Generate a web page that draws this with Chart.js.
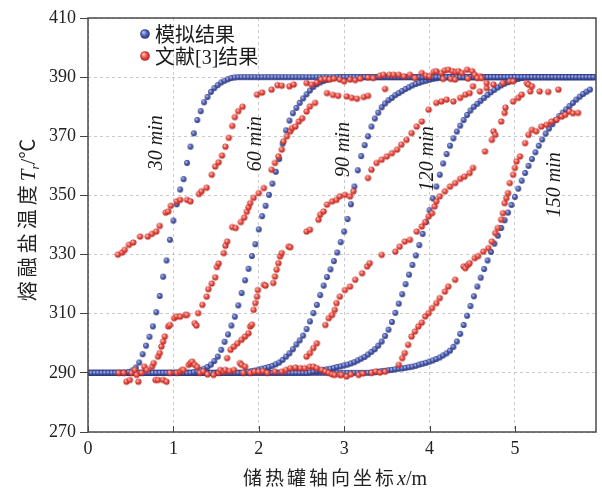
<!DOCTYPE html>
<html>
<head>
<meta charset="utf-8">
<script src="https://cdn.jsdelivr.net/npm/chart.js@4"></script>
<style>
  html, body { margin: 0; padding: 0; background: #fff; }
  canvas { display: block; }
</style>
</head>
<body>
<canvas id="chart" width="602" height="491"></canvas>
<script>
// Axial grid of the simulation (m)
const nodeX = [
  0, 0.04, 0.08, 0.12, 0.16, 0.2, 0.24, 0.28, 0.32, 0.36,
  0.4, 0.44, 0.48, 0.52, 0.56, 0.6, 0.64, 0.68, 0.72, 0.76,
  0.8, 0.84, 0.88, 0.92, 0.96, 1, 1.04, 1.08, 1.12, 1.16,
  1.2, 1.24, 1.28, 1.32, 1.36, 1.4, 1.44, 1.48, 1.52, 1.56,
  1.6, 1.64, 1.68, 1.72, 1.76, 1.8, 1.84, 1.88, 1.92, 1.96,
  2, 2.04, 2.08, 2.12, 2.16, 2.2, 2.24, 2.28, 2.32, 2.36,
  2.4, 2.44, 2.48, 2.52, 2.56, 2.6, 2.64, 2.68, 2.72, 2.76,
  2.8, 2.84, 2.88, 2.92, 2.96, 3, 3.04, 3.08, 3.12, 3.16,
  3.2, 3.24, 3.28, 3.32, 3.36, 3.4, 3.44, 3.48, 3.52, 3.56,
  3.6, 3.64, 3.68, 3.72, 3.76, 3.8, 3.84, 3.88, 3.92, 3.96,
  4, 4.04, 4.08, 4.12, 4.16, 4.2, 4.24, 4.28, 4.32, 4.36,
  4.4, 4.44, 4.48, 4.52, 4.56, 4.6, 4.64, 4.68, 4.72, 4.76,
  4.8, 4.84, 4.88, 4.92, 4.96, 5, 5.04, 5.08, 5.12, 5.16,
  5.2, 5.24, 5.28, 5.32, 5.36, 5.4, 5.44, 5.48, 5.52, 5.56,
  5.6, 5.64, 5.68, 5.72, 5.76, 5.8, 5.84, 5.88, 5.92
];

// Simulated salt temperature (°C) on nodeX, one array per time
const temp30 = [
  290, 290, 290, 290, 290, 290, 290, 290, 290, 290,
  290, 290, 290.3, 290.8, 291.8, 293.5, 296.3, 299.2, 302.2, 305.7,
  310.5, 316, 322.5, 328, 335, 341.5, 347, 352, 355.5, 361,
  366.5, 371, 375.5, 378.5, 381.5, 383.3, 385, 386.3, 387.3, 388.2,
  388.8, 389.3, 389.7, 389.9, 390, 390, 390, 390, 390, 390,
  390, 390, 390, 390, 390, 390, 390, 390, 390, 390,
  390, 390, 390, 390, 390, 390, 390, 390, 390, 390,
  390, 390, 390, 390, 390, 390, 390, 390, 390, 390,
  390, 390, 390, 390, 390, 390, 390, 390, 390, 390,
  390, 390, 390, 390, 390, 390, 390, 390, 390, 390,
  390, 390, 390, 390, 390, 390, 390, 390, 390, 390,
  390, 390, 390, 390, 390, 390, 390, 390, 390, 390,
  390, 390, 390, 390, 390, 390, 390, 390, 390, 390,
  390, 390, 390, 390, 390, 390, 390, 390, 390, 390,
  390, 390, 390, 390, 390, 390, 390, 390, 390
];
const temp60 = [
  290, 290, 290, 290, 290, 290, 290, 290, 290, 290,
  290, 290, 290, 290, 290, 290, 290, 290, 290, 290,
  290, 290, 290, 290, 290, 290, 290, 290, 290, 290,
  290, 290.2, 290.5, 290.9, 291.4, 292, 292.8, 294, 295.5, 297.8,
  300.5, 303, 306, 309, 312.8, 317, 321.3, 325.2, 329.5, 333.5,
  338.5, 343, 346.5, 350.2, 354, 358, 362.3, 367.5, 372, 375.3,
  377.8, 379.6, 381.3, 382.8, 384.2, 385.5, 386.7, 387.6, 388.2, 388.7,
  389.1, 389.4, 389.7, 389.9, 390, 390, 390, 390, 390, 390,
  390, 390, 390, 390, 390, 390, 390, 390, 390, 390,
  390, 390, 390, 390, 390, 390, 390, 390, 390, 390,
  390, 390, 390, 390, 390, 390, 390, 390, 390, 390,
  390, 390, 390, 390, 390, 390, 390, 390, 390, 390,
  390, 390, 390, 390, 390, 390, 390, 390, 390, 390,
  390, 390, 390, 390, 390, 390, 390, 390, 390, 390,
  390, 390, 390, 390, 390, 390, 390, 390, 390
];
const temp90 = [
  290, 290, 290, 290, 290, 290, 290, 290, 290, 290,
  290, 290, 290, 290, 290, 290, 290, 290, 290, 290,
  290, 290, 290, 290, 290, 290, 290, 290, 290, 290,
  290, 290, 290, 290, 290, 290, 290, 290, 290, 290,
  290, 290, 290, 290, 290, 290, 290.2, 290.4, 290.6, 290.8,
  291.1, 291.4, 291.7, 292, 292.4, 292.9, 293.5, 294.4, 295.5, 296.6,
  298, 299.6, 301, 302.6, 304.8, 307.4, 310.2, 313, 316.3, 319.5,
  322.4, 325, 327.8, 330.7, 334.2, 337.8, 342, 347, 353, 358.5,
  363.3, 367, 370, 373.3, 376, 378, 379.8, 381.1, 382.2, 383,
  383.9, 384.6, 385.3, 386, 386.6, 387.2, 387.7, 388.1, 388.5, 388.8,
  389.1, 389.4, 389.6, 389.8, 389.9, 390, 390, 390, 390, 390,
  390, 390, 390, 390, 390, 390, 390, 390, 390, 390,
  390, 390, 390, 390, 390, 390, 390, 390, 390, 390,
  390, 390, 390, 390, 390, 390, 390, 390, 390, 390,
  390, 390, 390, 390, 390, 390, 390, 390, 390
];
const temp120 = [
  290, 290, 290, 290, 290, 290, 290, 290, 290, 290,
  290, 290, 290, 290, 290, 290, 290, 290, 290, 290,
  290, 290, 290, 290, 290, 290, 290, 290, 290, 290,
  290, 290, 290, 290, 290, 290, 290, 290, 290, 290,
  290, 290, 290, 290, 290, 290, 290, 290, 290, 290,
  290, 290, 290, 290, 290, 290, 290, 290, 290, 290,
  290, 290, 290, 290, 290, 290.2, 290.4, 290.6, 290.8, 291,
  291.2, 291.4, 291.7, 292, 292.2, 292.5, 292.8, 293.2, 293.6, 294.2,
  294.8, 295.4, 296.2, 297.1, 298, 299.2, 300.6, 302.5, 304.6, 307.2,
  310.3, 313.4, 316.6, 320, 323.2, 326.5, 329.7, 333.2, 337, 341,
  345, 349, 353, 357, 360.8, 364, 366.8, 369.3, 371.6, 373.6,
  375.5, 377.2, 378.7, 380, 381, 382, 383, 384, 384.9, 385.7,
  386.5, 387.2, 387.8, 388.3, 388.7, 389.1, 389.4, 389.7, 389.9, 390,
  390, 390, 390, 390, 390, 390, 390, 390, 390, 390,
  390, 390, 390, 390, 390, 390, 390, 390, 390
];
const temp150 = [
  290, 290, 290, 290, 290, 290, 290, 290, 290, 290,
  290, 290, 290, 290, 290, 290, 290, 290, 290, 290,
  290, 290, 290, 290, 290, 290, 290, 290, 290, 290,
  290, 290, 290, 290, 290, 290, 290, 290, 290, 290,
  290, 290, 290, 290, 290, 290, 290, 290, 290, 290,
  290, 290, 290, 290, 290, 290, 290, 290, 290, 290,
  290, 290, 290, 290, 290, 290, 290, 290, 290, 290,
  290, 290, 290, 290, 290, 290, 290, 290, 290, 290,
  290, 290, 290, 290.1, 290.2, 290.4, 290.6, 290.7, 290.9, 291,
  291.2, 291.4, 291.5, 291.7, 291.9, 292.1, 292.4, 292.8, 293.1, 293.4,
  293.8, 294.2, 294.7, 295.2, 295.9, 296.6, 297.5, 298.8, 300.6, 303.2,
  306.2, 309.3, 312.6, 315.9, 319.2, 322.2, 325.1, 328, 330.9, 333.7,
  336.4, 339, 341.6, 344.2, 346.8, 349.5, 352.3, 355, 357.6, 360,
  362.3, 364.6, 366.8, 368.9, 370.9, 372.6, 374.1, 375.5, 376.8, 378,
  379.1, 380.2, 381.3, 382.4, 383.4, 384.3, 385.1, 385.8
];
const simTemps = [temp30, temp60, temp90, temp120, temp150];

// Reference [3] measurements: position (m) and temperature (°C)
const redX = [
  0.36, 0.42, 0.45, 0.49, 0.51, 0.55, 0.57, 0.59, 0.63, 0.66, 0.69, 0.75, 0.77, 0.79, 0.82, 0.88, 0.92, 0.96,
  0.35, 0.40, 0.43, 0.48, 0.53, 0.61, 0.70, 0.75, 0.80, 0.84, 0.91, 0.94, 0.97, 1.04, 1.08, 1.16, 1.20, 1.30,
  1.33, 1.39, 1.45, 1.49, 1.53, 1.57, 1.61, 1.65, 1.69, 1.72, 1.76, 1.81, 1.98, 2.04, 2.15, 2.22, 2.27, 2.36,
  2.41, 2.56, 2.62, 2.68, 2.73, 2.78, 2.83,
  0.82, 0.84, 0.86, 0.88, 0.90, 0.94, 0.96, 1.01, 1.04, 1.08, 1.14, 1.16, 1.25, 1.27, 1.29, 1.34, 1.39, 1.41,
  1.45, 1.49, 1.51, 1.53, 1.59, 1.61, 1.63, 1.69, 1.73, 1.79, 1.83, 1.86, 1.88, 1.90, 1.94, 2.00, 2.06, 2.15,
  2.19, 2.23, 2.27, 2.29, 2.33, 2.37, 2.39, 2.43, 2.47, 2.51, 2.56, 2.60, 2.66, 2.80, 2.87, 2.93, 3.03, 3.09,
  3.15, 3.23, 3.28, 3.48,
  1.63, 1.67, 1.71, 1.75, 1.80, 1.84, 1.88, 1.90, 1.92, 1.94, 1.96, 1.98, 1.99, 2.06, 2.08, 2.17, 2.19, 2.21,
  2.23, 2.25, 2.27, 2.35, 2.37, 2.56, 2.60, 2.70, 2.72, 2.76, 2.80, 2.86, 2.91, 2.95, 3.01, 3.07, 3.11, 3.28,
  3.32, 3.38, 3.44, 3.50, 3.56, 3.62, 3.67, 3.73, 3.79, 3.85, 3.91, 3.99, 4.08, 4.14, 4.20, 4.28, 4.36, 4.42,
  4.47, 4.59, 4.67, 4.75, 4.86, 4.94, 4.98,
  2.56, 2.60, 2.64, 2.68, 2.78, 2.82, 2.86, 2.89, 2.91, 2.95, 3.01, 3.07, 3.13, 3.21, 3.27, 3.30, 3.44, 3.60,
  3.65, 3.71, 3.77, 3.85, 3.91, 3.95, 3.99, 4.03, 4.06, 4.08, 4.12, 4.18, 4.24, 4.30, 4.36, 4.41, 4.47, 4.51,
  4.65, 4.73, 4.75, 4.77, 4.84, 4.88, 4.89, 4.98, 5.04, 5.08, 5.18,
  3.64, 3.68, 3.71, 3.75, 3.79, 3.83, 3.87, 3.91, 3.95, 3.99, 4.03, 4.08, 4.12, 4.18, 4.22, 4.30, 4.40, 4.42,
  4.45, 4.47, 4.53, 4.57, 4.63, 4.69, 4.73, 4.77, 4.80, 4.84, 4.86, 4.88, 4.90, 4.92, 4.94, 4.98, 5.00, 5.02,
  5.06, 5.12, 5.16, 5.20, 5.25, 5.31, 5.37, 5.43, 5.49, 5.55, 5.59, 5.64, 5.68, 5.74,
  1.04, 1.08, 1.10, 1.12, 1.18, 1.20, 1.22, 1.25, 1.28, 1.31, 1.35, 1.40, 1.47, 1.53, 1.55, 1.59, 1.61, 1.66,
  1.71, 1.78, 1.80, 1.82, 1.84, 1.90, 1.95, 2.00, 2.05, 2.10, 2.19, 2.27, 2.32, 2.37, 2.43, 2.49, 2.54, 2.60,
  2.64, 2.68, 2.74, 2.78, 2.82, 2.86, 2.89, 2.95, 2.97, 3.03, 3.08, 3.17, 3.22, 3.32, 3.37, 3.42, 3.48,
  2.88, 2.95, 3.00, 3.07, 3.13, 3.19, 3.28, 3.34, 3.42, 3.46, 3.53, 3.58, 3.64, 3.70, 3.77, 3.83, 3.91, 3.96,
  4.00, 4.05, 4.08, 4.14, 4.18, 4.22, 4.27, 4.31, 4.34, 4.38, 4.44, 4.50, 4.53, 4.59, 4.16, 4.25, 4.30, 4.45,
  4.56, 4.61, 4.67, 4.51, 5.14, 5.16, 5.20, 5.29, 5.39, 5.51
];
const redT = [
  290, 290, 287, 287.6, 290, 291, 289.3, 287, 290, 292.1, 291, 292.1, 293.3, 287.6, 287.6, 287.6, 287, 290,
  330, 330.7, 331.6, 333.3, 334.1, 336.1, 336.1, 337, 337.8, 339.7, 344.2, 344.6, 346.5, 348, 348.5, 348.5, 348, 350.5,
  351.4, 352.6, 357, 359.8, 361.2, 363.5, 366.5, 369.5, 373.5, 376.5, 378.5, 380, 384.1, 384.8, 385.8, 387.3, 387.1, 386.9,
  387.5, 388, 387.5, 388.2, 389.2, 389.4, 389.2,
  295.5, 296.7, 298.9, 300.6, 302.3, 305.7, 306.2, 308.5, 309.1, 309, 309.6, 309.6, 306.8, 306, 310.2, 313, 315.8, 318.3,
  320.2, 322.3, 325.8, 327, 330.5, 333, 334.4, 339.3, 339, 341, 342.5, 344.5, 346, 347.4, 349.2, 350.8, 352.5, 358.7,
  361, 363.2, 365.5, 368.3, 370, 371.7, 372.8, 373.3, 375, 376.1, 378.4, 380.1, 381.3, 384.6, 384, 383.7, 383.5, 383,
  382.7, 383.3, 383.7, 386,
  295, 297.8, 298.9, 300, 301.2, 302.3, 303.4, 305.7, 306.3, 311.3, 313.6, 315.8, 318, 319.8, 319.5, 320.4, 322.6, 324.9,
  327.1, 329.4, 330.5, 332.7, 332.5, 337.8, 338.4, 341.8, 343.5, 344.6, 346.9, 348, 348.5, 349.7, 350.2, 349.7, 351.4, 355.9,
  358.7, 361, 362.1, 363.2, 364.3, 365.5, 367.2, 368.8, 371.1, 373.3, 375, 379, 381.3, 381.8, 382.4, 381.8, 383, 384.1,
  384.6, 385.2, 386.3, 387.5, 388, 388.6, 388.6,
  295.5, 296.7, 298.4, 300, 306.2, 308.5, 309.6, 311.3, 313.6, 315.8, 318, 319.2, 321.5, 323.7, 326, 327.1, 329.9, 331,
  332.7, 334.4, 335, 337.8, 339.5, 341, 342.9, 344, 346.3, 348, 349.7, 351.4, 353, 354.2, 355.6, 356.4, 357.6, 359.3,
  364.9, 368.8, 371.7, 370.5, 375, 377.9, 379.7, 381.8, 383, 384.1, 385.2,
  292.7, 295, 296.7, 299.5, 302.3, 304, 305.7, 307, 309.1, 310.2, 311.9, 313.6, 315.3, 317.5, 319.2, 321.5, 326, 325.4,
  326.5, 327.1, 328.8, 329.5, 331, 332.2, 334.4, 337.3, 339, 341.8, 344, 347.4, 349.1, 350.8, 354.2, 357, 359.3, 361.5,
  363.2, 367.7, 370.5, 372.2, 371.7, 373.3, 373.9, 375, 375.6, 376.7, 377.3, 378.4, 377.8, 377.9,
  290, 290.4, 291, 291, 292.7, 293.3, 293.8, 292.7, 292, 290, 290.5, 289.5, 289.3, 290, 291, 290.4, 291, 290.6,
  291, 293.3, 292.7, 290, 292.1, 290, 290.4, 290.4, 290.6, 290, 290.4, 290.4, 291, 291.6, 291.8, 291.6, 291.6, 292.1,
  292.1, 291.6, 291, 290.5, 290, 289.5, 289.3, 289.3, 289.3, 288.8, 289.5, 289.3, 289.8, 290, 290.5, 290.1, 290.4,
  389.5, 389.2, 388.6, 389.2, 389, 389.5, 389.9, 389.7, 390.5, 390.8, 390.8, 390.8, 390.8, 390.3, 390.8, 389.7, 391.4, 390.5,
  390.3, 391.8, 392, 391.4, 392.3, 392.5, 392, 391.7, 392, 391.4, 392.5, 392, 390.8, 390.3, 389.4, 389.4, 389.2, 389.5,
  389.7, 389.7, 388, 386.9, 388, 387.5, 386.9, 385.2, 385, 385.8
];

const curveNames = ['30 min', '60 min', '90 min', '120 min', '150 min'];
// where each time label sits (m, °C)
const curveLabelX = [0.80, 1.96, 3.0, 3.98, 5.47];
const curveLabelT = [367.8, 367.5, 365.5, 362.4, 353.6];

const serif = '"Liberation Serif", "Times New Roman", serif';
const cjk = '"Noto Sans CJK SC", sans-serif';

// small shaded balls used as point markers
function ball(r, light, base, dark) {
  const s = Math.ceil(r * 2) + 2;
  const c = document.createElement('canvas');
  c.width = c.height = s;
  const g = c.getContext('2d');
  const grad = g.createRadialGradient(s / 2 - r * 0.35, s / 2 - r * 0.4, r * 0.1, s / 2, s / 2, r);
  grad.addColorStop(0, light);
  grad.addColorStop(0.55, base);
  grad.addColorStop(1, dark);
  g.fillStyle = grad;
  g.beginPath();
  g.arc(s / 2, s / 2, r, 0, Math.PI * 2);
  g.fill();
  return c;
}
const blueBall = ball(2.9, '#b5bdee', '#4a5cb4', '#2a3577');
const redBall = ball(3.1, '#ffc2bb', '#ea4a40', '#b0241c');
const blueKey = ball(4.8, '#b5bdee', '#4a5cb4', '#2a3577');
const redKey = ball(4.8, '#ffc2bb', '#ea4a40', '#b0241c');

// draw text made of runs with different fonts, centred on cx
function drawRuns(ctx, runs, cx, baseline) {
  let total = 0;
  runs.forEach(r => {
    ctx.font = r.font;
    r.w = 0;
    for (const ch of r.text) r.w += ctx.measureText(ch).width + (r.gap || 0);
    total += r.w;
  });
  let x = cx - total / 2;
  runs.forEach(r => {
    ctx.font = r.font;
    for (const ch of r.text) {
      ctx.fillText(ch, x, baseline + (r.dy || 0));
      x += ctx.measureText(ch).width + (r.gap || 0);
    }
  });
}

const decorations = {
  id: 'decorations',
  afterDraw(chart) {
    const { ctx, chartArea: a, scales: { x, y } } = chart;
    ctx.save();

    // inward tick marks on the bottom axis
    ctx.strokeStyle = '#444';
    ctx.lineWidth = 1;
    x.ticks.forEach(t => {
      const px = Math.round(x.getPixelForValue(t.value)) + 0.5;
      ctx.beginPath();
      ctx.moveTo(px, a.bottom);
      ctx.lineTo(px, a.bottom - 6);
      ctx.stroke();
    });

    // plot frame
    ctx.lineWidth = 1.5;
    ctx.strokeStyle = '#4a4a4a';
    ctx.strokeRect(a.left, a.top, a.right - a.left, a.bottom - a.top);

    // time labels along the curves
    ctx.fillStyle = '#1a1a1a';
    ctx.font = 'italic 20px ' + serif;
    ctx.textAlign = 'center';
    ctx.textBaseline = 'middle';
    curveNames.forEach((name, i) => {
      ctx.save();
      ctx.translate(x.getPixelForValue(curveLabelX[i]), y.getPixelForValue(curveLabelT[i]));
      ctx.rotate(-Math.PI / 2);
      ctx.fillText(name, 0, 0);
      ctx.restore();
    });

    // legend
    ctx.textAlign = 'left';
    ctx.textBaseline = 'alphabetic';
    ctx.drawImage(blueKey, 145 - blueKey.width / 2, 34 - blueKey.height / 2);
    ctx.drawImage(redKey, 145 - redKey.width / 2, 56 - redKey.height / 2);
    ctx.font = '20px ' + serif + ', ' + cjk;
    ctx.fillText('模拟结果', 155, 42);
    ctx.fillText('文献[3]结果', 155, 64);

    // axis titles
    ctx.fillStyle = '#222';
    drawRuns(ctx, [
      { text: '储热罐轴向坐标', font: '19px ' + cjk, gap: 3 },
      { text: 'x', font: 'italic 20px ' + serif },
      { text: '/m', font: '20px ' + serif }
    ], 335, 485);

    ctx.save();
    ctx.translate(27, 220);
    ctx.rotate(-Math.PI / 2);
    drawRuns(ctx, [
      { text: '熔融盐温度', font: '20px ' + cjk, gap: 4 },
      { text: 'T', font: 'italic 21px ' + serif },
      { text: 'r', font: 'italic 13px ' + serif, dy: 4 },
      { text: '/', font: '21px ' + serif },
      { text: '℃', font: '20px ' + cjk }
    ], 0, 8);
    ctx.restore();

    ctx.restore();
  }
};

const simPoints = simTemps.map(temps =>
  nodeX.map((x, i) => ({ x, y: temps[i] })).filter(p => p.y !== undefined)
);
const refPoints = redX.map((x, i) => ({ x, y: redT[i] }));

const datasets = [
  {
    label: '文献[3]结果',
    data: refPoints,
    pointStyle: redBall,
    pointRadius: 3,
    order: 0
  },
  ...simPoints.map((pts, i) => ({
    label: '模拟结果 ' + curveNames[i],
    data: pts,
    pointStyle: blueBall,
    pointRadius: 3,
    order: 1
  }))
];

const tickFont = { family: serif, size: 18 };

new Chart(document.getElementById('chart'), {
  type: 'scatter',
  data: { datasets },
  options: {
    responsive: false,
    devicePixelRatio: 1,
    animation: false,
    layout: { padding: { top: 18, right: 6, left: 0, bottom: 0 } },
    plugins: {
      legend: { display: false },
      tooltip: { enabled: false }
    },
    scales: {
      x: {
        type: 'linear',
        min: 0,
        max: 5.95,
        afterFit: s => { s.height = 59; },
        ticks: { stepSize: 1, includeBounds: false, padding: 6, color: '#222', font: tickFont },
        grid: { color: '#c9c9c9', lineWidth: 1, drawTicks: false },
        border: { display: false, dash: [3, 3] }
      },
      y: {
        min: 270,
        max: 410,
        afterFit: s => { s.width = 88; },
        ticks: { stepSize: 20, padding: 4, color: '#222', font: tickFont },
        grid: { color: '#c9c9c9', lineWidth: 1, tickLength: 8, tickColor: '#444' },
        border: { display: false, dash: [3, 3] }
      }
    }
  },
  plugins: [decorations]
});
</script>
</body>
</html>
